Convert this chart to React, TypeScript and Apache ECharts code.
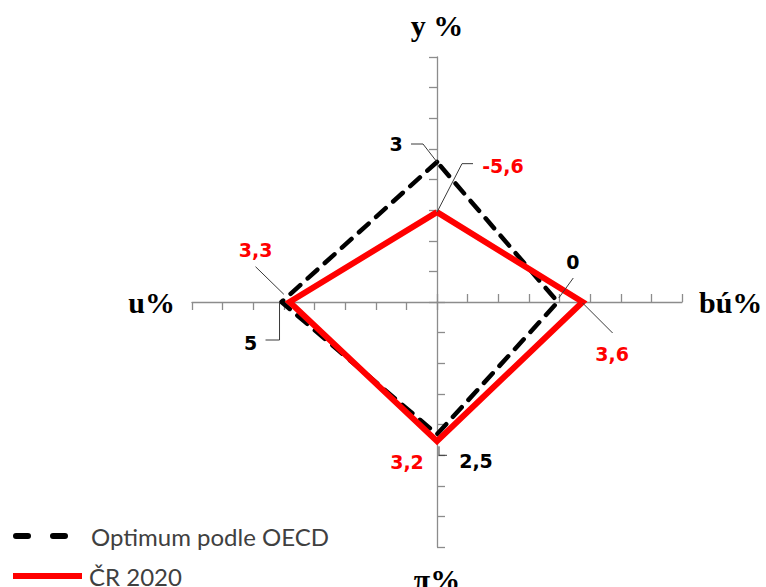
import React, { useEffect, useRef } from 'react';
import * as echarts from 'echarts';

// ---- data ----
const axisNames = ['y %', 'u%', 'π%', 'bú%'];
const axisMin = [-21, -28, -11, -17.5];
const axisMax = [21, 24, 14, 18];
const seriesNames = ['Optimum podle OECD', 'ČR 2020'];
const oecdValues = [3, 5, 2.5, 0];
const crValues = [-5.6, 3.3, 3.2, 3.6];

// ---- label placement (style only: offsets from each vertex) ----
const oecdLabelLayout = [
  { dx: -41, dy: -18, leader: [[0, 0], [-14, -18], [-26, -18]] },
  { dx: -31, dy: 41, leader: [[-2, 0], [-2, 38], [-16, 38]] },
  { dx: 39, dy: 27, leader: [[2, 12], [2, 21], [10, 21]] },
  { dx: 15, dy: -40, leader: [[1, -4], [15.5, -24]] },
];
const crLabelLayout = [
  { dx: 66, dy: -46, leader: [[0, 0], [25, -48.5], [36, -48.5]] },
  { dx: -34, dy: -52, leader: [[-5.7, -7.7], [-34, -35.3]] },
  { dx: -30, dy: 21, leader: null },
  { dx: 29.5, dy: 52, leader: [[0, 1], [30, 31]] },
];

const CENTER: [number, number] = [437, 302];
const RADIUS = 245;

const fmt = (v: number) => String(v).replace('.', ',');

export default function App() {
  const ref = useRef<HTMLDivElement>(null);
  useEffect(() => {
    if (!ref.current) return;
    const chart = echarts.init(ref.current, undefined, { renderer: 'svg' });
    const axisColor = '#8c8c8c';
    chart.setOption({
      animation: false,
      backgroundColor: '#ffffff',
      radar: {
        center: CENTER,
        radius: RADIUS,
        startAngle: 90,
        shape: 'polygon',
        splitNumber: 8,
        indicator: axisNames.map((n, i) => ({ name: n, min: axisMin[i], max: axisMax[i] })),
        nameGap: 17,
        axisName: {
          color: '#000',
          fontFamily: 'Liberation Serif',
          fontWeight: 'bold',
          fontSize: 30,
        },
        axisLine: { show: true, lineStyle: { color: axisColor, width: 1.3 } },
        axisTick: { show: true, length: 8, lineStyle: { color: axisColor, width: 1.3 } },
        axisLabel: { show: false },
        splitLine: { show: false },
        splitArea: { show: false },
      },
      legend: [
        {
          data: [
            {
              name: seriesNames[0],
              icon: 'path://M3,0h12a3,3 0 0 1 0,6h-12a3,3 0 0 1 0,-6z M40,0h12a3,3 0 0 1 0,6h-12a3,3 0 0 1 0,-6z',
              itemStyle: { color: '#000' },
            },
          ],
          left: 8,
          top: 519,
          itemWidth: 55,
          itemHeight: 6,
          selectedMode: false,
          textStyle: { color: '#404040', fontFamily: 'Lato', fontSize: 24, padding: [0, 0, 0, 18] },
        },
        {
          data: [
            {
              name: seriesNames[1],
              icon: 'path://M0,0h69v6h-69z',
              itemStyle: { color: '#ff0000' },
            },
          ],
          left: 8,
          top: 559,
          itemWidth: 69,
          itemHeight: 6,
          selectedMode: false,
          textStyle: { color: '#404040', fontFamily: 'Lato', fontSize: 24, padding: [0, 0, 0, 2] },
        },
      ],
      series: [
        {
          type: 'radar',
          symbol: 'none',
          data: [
            {
              name: seriesNames[0],
              value: oecdValues,
              itemStyle: { color: '#000' },
              lineStyle: { color: '#000', width: 4.5, type: [13, 10], cap: 'round' },
            },
            {
              name: seriesNames[1],
              value: crValues,
              itemStyle: { color: '#ff0000' },
              lineStyle: { color: '#ff0000', width: 6, join: 'miter' },
            },
          ],
        },
      ],
    });

    const vertex = (value: number, idx: number): number[] => {
      try {
        const cs = (chart as any).getModel().getComponent('radar', 0).coordinateSystem;
        const p = cs.dataToPoint(value, idx);
        if (p && isFinite(p[0]) && isFinite(p[1])) return [p[0], p[1]];
      } catch (e) {
        /* fall through */
      }
      const r = ((value - axisMin[idx]) / (axisMax[idx] - axisMin[idx])) * RADIUS;
      const ang = Math.PI / 2 + (idx * Math.PI * 2) / axisNames.length;
      return [CENTER[0] + r * Math.cos(ang), CENTER[1] - r * Math.sin(ang)];
    };

    const graphics: any[] = [];
    const addLabels = (values: number[], layout: any[], color: string) => {
      values.forEach((v, i) => {
        const p = vertex(v, i);
        const L = layout[i];
        if (L.leader) {
          graphics.push({
            type: 'polyline',
            silent: true,
            shape: { points: L.leader.map((o: number[]) => [p[0] + o[0], p[1] + o[1]]) },
            style: { stroke: '#3a3a3a', lineWidth: 1, fill: 'none' },
            z: 10,
          });
        }
        graphics.push({
          type: 'text',
          silent: true,
          x: p[0] + L.dx,
          y: p[1] + L.dy,
          style: {
            text: fmt(v),
            fill: color,
            font: 'bold 19px "DejaVu Sans"',
            align: 'center',
            verticalAlign: 'middle',
          },
          z: 10,
        });
      });
    };
    addLabels(oecdValues, oecdLabelLayout, '#000');
    addLabels(crValues, crLabelLayout, '#ff0000');
    chart.setOption({ graphic: graphics });

    return () => chart.dispose();
  }, []);
  return (
    <div
      ref={ref}
      style={{ position: 'fixed', left: 0, top: 0, width: 766, height: 587, background: '#fff' }}
    />
  );
}
